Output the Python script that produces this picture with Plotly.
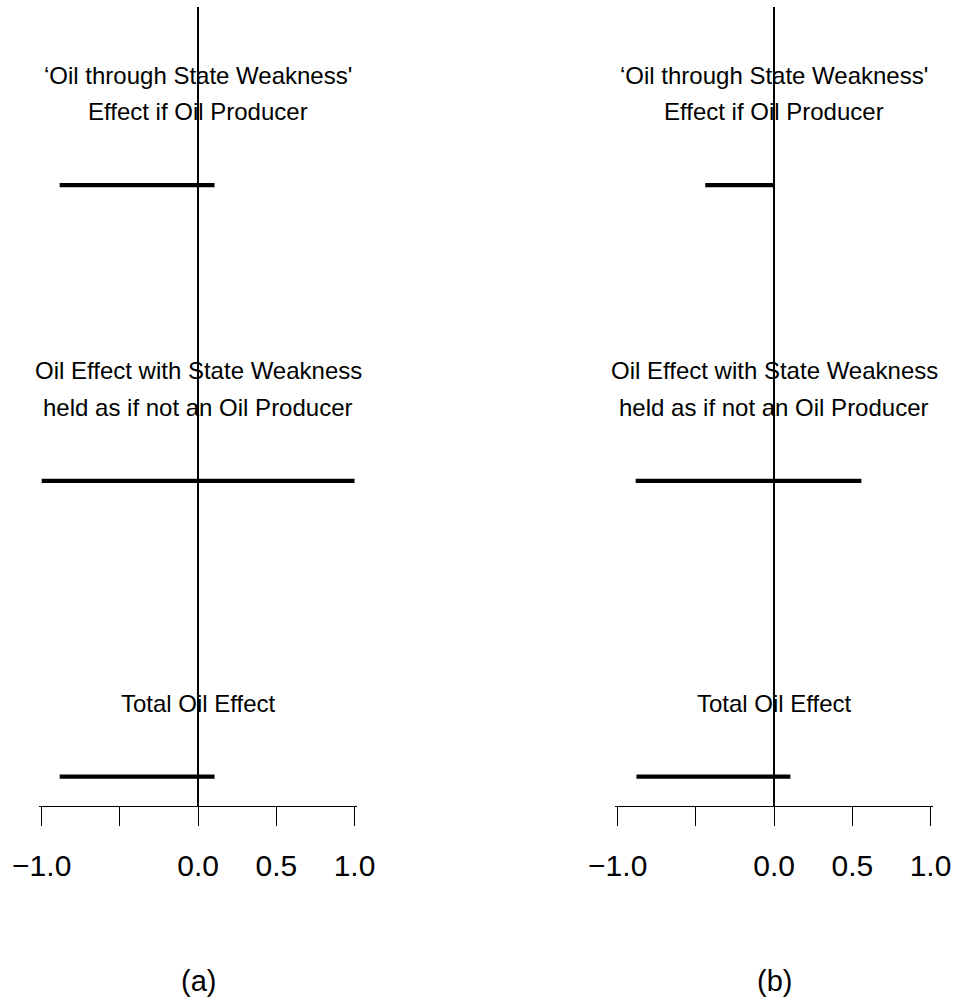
import plotly.graph_objects as go

# ---- data ----
positions = [3, 2, 1]
label_line1 = ["\u2018Oil through State Weakness'", "Oil Effect with State Weakness", ""]
label_line2 = ["Effect if Oil Producer", "held as if not an Oil Producer", "Total Oil Effect"]

lower_a = [-0.885, -1.0, -0.885]
upper_a = [0.105, 1.0, 0.105]
lower_b = [-0.44, -0.885, -0.88]
upper_b = [0.0, 0.558, 0.104]

tick_vals = [-1.0, -0.5, 0.0, 0.5, 1.0]
tick_text = ["\u22121.0", "", "0.0", "0.5", "1.0"]
panel_captions = ["(a)", "(b)"]

# ---- layout constants ----
W, H = 959, 1001
FONT = "Liberation Sans, Arial, Helvetica, sans-serif"
XR = 1.015
YR = [0.901, 3.602]
y_dom = [1 - 806 / H, 1 - 7 / H]
px_per_unit = 156.4
panel_left_px = [41.7, 617.7]  # pixel where x=-1

fig = go.Figure()

panels = [(lower_a, upper_a), (lower_b, upper_b)]
for i, (lo, hi) in enumerate(panels):
    xa = "x" if i == 0 else "x2"
    ya = "y" if i == 0 else "y2"
    xs, ys = [], []
    for p, l, u in zip(positions, lo, hi):
        xs += [l, u, None]
        ys += [p, p, None]
    fig.add_trace(go.Scatter(x=xs, y=ys, mode="lines", xaxis=xa, yaxis=ya,
                             line=dict(color="black", width=4.3),
                             showlegend=False, hoverinfo="skip"))
    for p, t1, t2 in zip(positions, label_line1, label_line2):
        if t1:
            fig.add_annotation(x=0, y=p + 0.372, xref=xa, yref=ya, text=t1,
                               showarrow=False, xanchor="center", yanchor="middle",
                               font=dict(family=FONT, size=24, color="black"))
        fig.add_annotation(x=0, y=p + 0.248, xref=xa, yref=ya, text=t2,
                           showarrow=False, xanchor="center", yanchor="middle",
                           font=dict(family=FONT, size=24, color="black"))
    fig.add_annotation(x=0, y=1 - 981 / H, xref=xa, yref="paper",
                       text=panel_captions[i], showarrow=False,
                       xanchor="center", yanchor="middle",
                       font=dict(family=FONT, size=29, color="black"))

def xdom(left_px):
    l = left_px - (XR - 1) * px_per_unit
    r = left_px + (XR + 1) * px_per_unit
    return [l / W, r / W]

axis_common = dict(range=[-XR, XR], showgrid=False, zeroline=True,
                   zerolinecolor="black", zerolinewidth=1.6,
                   showline=True, linecolor="black", linewidth=1.4,
                   ticks="outside", ticklen=19, tickwidth=1.4, tickcolor="black",
                   tickmode="array", tickvals=tick_vals, ticktext=tick_text,
                   ticklabelstandoff=14, automargin=False,
                   tickfont=dict(family=FONT, size=30, color="black"),
                   fixedrange=True)
yaxis_common = dict(range=YR, visible=False, showgrid=False, zeroline=False,
                    domain=y_dom, fixedrange=True, automargin=False)

fig.update_layout(
    width=W, height=H,
    margin=dict(l=0, r=0, t=0, b=0, autoexpand=False),
    paper_bgcolor="white", plot_bgcolor="white",
    xaxis=dict(domain=xdom(panel_left_px[0]), anchor="y", **axis_common),
    xaxis2=dict(domain=xdom(panel_left_px[1]), anchor="y2", **axis_common),
    yaxis=dict(anchor="x", **yaxis_common),
    yaxis2=dict(anchor="x2", **yaxis_common),
    showlegend=False,
)

fig.write_html("out.html")
